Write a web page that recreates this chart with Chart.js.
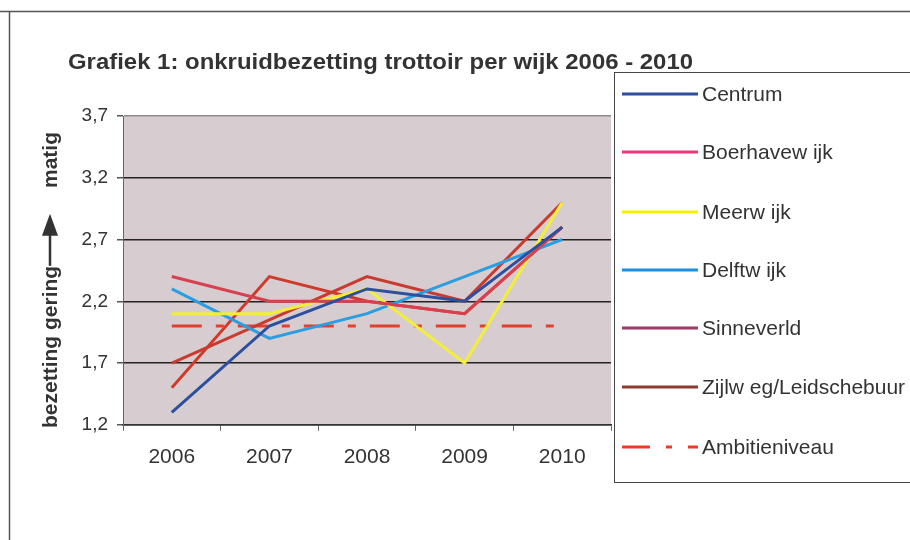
<!DOCTYPE html>
<html>
<head>
<meta charset="utf-8">
<script src="https://cdn.jsdelivr.net/npm/chart.js@4/dist/chart.umd.min.js"></script>
<style>
  body { margin: 0; background: #fff; }
  #myChart { display: block; }
</style>
</head>
<body>
<canvas id="myChart" width="910" height="540"></canvas>
<script>
// data van de grafiek
const jaren = ['2006', '2007', '2008', '2009', '2010'];
const wijken = ['Centrum', 'Boerhavewijk', 'Meerwijk', 'Delftwijk', 'Sinneverld', 'Zijlweg/Leidschebuurt', 'Ambitieniveau'];
const legendaTekst = ['Centrum', 'Boerhavew ijk', 'Meerw ijk', 'Delftw ijk', 'Sinneverld', 'Zijlw eg/Leidschebuur', 'Ambitieniveau'];

const centrum = [1.3, 2.0, 2.3, 2.2, 2.8];
const boerhavewijk = [2.4, 2.2, 2.2, 2.1, 2.8];
const meerwijk = [2.1, 2.1, 2.3, 1.7, 3.0];
const delftwijk = [2.3, 1.9, 2.1, 2.4, 2.7];
const sinneverld = [1.7, 2.05, 2.4, 2.2, 3.0];
const zijlweg = [1.5, 2.4, 2.2, 2.1, 2.8];
const ambitie = [2.0, 2.0, 2.0, 2.0, 2.0];

const yTicks = [1.2, 1.7, 2.2, 2.7, 3.2, 3.7];

// kleuren: lijn in de grafiek (scan) en in de legenda
const lijnKleur = ['#2c4f9e', '#d8404f', '#f2ee3a', '#2a9ee0', '#c93b2e', '#cf3a2a', '#e2402c'];
const legendaKleur = ['#2c4f9e', '#f0347a', '#f4f000', '#1a8fe6', '#9a3c66', '#8e3a2e', '#f03a28'];

const reeksen = [centrum, boerhavewijk, meerwijk, delftwijk, sinneverld, zijlweg, ambitie];

const datasets = reeksen.map((r, i) => ({
    label: wijken[i],
    data: r,
    borderColor: lijnKleur[i],
    backgroundColor: lijnKleur[i],
    borderWidth: 3,
    borderDash: i === 6 ? [30, 14, 8, 14] : [],
    pointRadius: 0,
    tension: 0,
    fill: false
}));

const tekstKleur = '#333';
const lettertype = '"Liberation Sans", Arial, sans-serif';

const extraTekening = {
    id: 'extraTekening',
    beforeDraw(chart) {
        const c = chart.ctx, a = chart.chartArea;
        c.save();
        c.fillStyle = '#d7cdd1';
        c.fillRect(a.left, a.top, a.right - a.left, a.bottom - a.top);
        c.restore();
    },
    afterDraw(chart) {
        const c = chart.ctx;
        c.save();
        // kader rond de figuur
        c.strokeStyle = '#555';
        c.lineWidth = 1.5;
        c.beginPath();
        c.moveTo(0, 11.5); c.lineTo(910, 11.5);
        c.moveTo(9.5, 11.5); c.lineTo(9.5, 540);
        c.stroke();

        // titel, uitgerekt tot de breedte van het origineel
        const titel = 'Grafiek 1: onkruidbezetting trottoir per wijk 2006 - 2010';
        c.fillStyle = tekstKleur;
        c.font = 'bold 22px ' + lettertype;
        c.textBaseline = 'alphabetic';
        c.textAlign = 'left';
        const w = c.measureText(titel).width;
        c.save();
        c.translate(68, 69);
        c.scale(625 / w, 1);
        c.fillText(titel, 0, 0);
        c.restore();

        // y-as titel met pijl
        c.save();
        c.translate(57, 428);
        c.rotate(-Math.PI / 2);
        c.font = 'bold 21px ' + lettertype;
        c.fillStyle = tekstKleur;
        c.textBaseline = 'alphabetic';
        c.fillText('bezetting gering', 0, 0);
        const b = c.measureText('bezetting gering').width;
        c.strokeStyle = tekstKleur;
        c.lineWidth = 2.5;
        c.beginPath();
        c.moveTo(b, -7); c.lineTo(b + 36, -7);
        c.stroke();
        c.beginPath();
        c.moveTo(b + 30, -15); c.lineTo(b + 52, -7); c.lineTo(b + 30, 1);
        c.closePath();
        c.fill();
        c.fillText('matig', 240, 0);
        c.restore();

        // legenda kader
        c.fillStyle = '#fff';
        c.fillRect(614, 72, 300, 410);
        c.strokeStyle = '#444';
        c.lineWidth = 1;
        c.strokeRect(614.5, 72.5, 300, 410);

        const ys = [94, 152, 212, 270, 328, 387, 447];
        c.font = '21px ' + lettertype;
        c.textBaseline = 'middle';
        legendaTekst.forEach((t, i) => {
            c.strokeStyle = legendaKleur[i];
            c.lineWidth = 3;
            c.setLineDash(i === 6 ? [28, 16, 6, 16] : []);
            c.beginPath();
            c.moveTo(622, ys[i]);
            c.lineTo(698, ys[i]);
            c.stroke();
            c.setLineDash([]);
            c.fillStyle = tekstKleur;
            c.fillText(t, 702, ys[i] + 1);
        });
        c.restore();
    }
};

var ctx = document.getElementById('myChart').getContext('2d');
var myChart = new Chart(ctx, {
    type: 'line',
    data: {
        labels: jaren,
        datasets: datasets
    },
    options: {
        responsive: false,
        animation: false,
        layout: {
            padding: { left: 34, right: 299, top: 116, bottom: 56 }
        },
        scales: {
            x: {
                offset: true,
                grid: {
                    offset: true,
                    drawOnChartArea: false,
                    color: '#666',
                    tickLength: 6
                },
                border: { color: '#333', width: 1.5 },
                ticks: {
                    color: tekstKleur,
                    font: { family: lettertype, size: 21 },
                    padding: 14
                }
            },
            y: {
                min: 1.2,
                max: 3.7,
                afterBuildTicks: (s) => { s.ticks = yTicks.map(v => ({ value: v })); },
                afterFit: (s) => { s.width = 89; },
                grid: {
                    color: (g) => g.index === 5 ? '#8a8a8a' : '#222',
                    lineWidth: 1.5,
                    tickLength: 6,
                    tickColor: '#555'
                },
                border: { color: '#666', width: 1 },
                ticks: {
                    color: tekstKleur,
                    font: { family: lettertype, size: 19 },
                    padding: 9,
                    callback: (v) => Number(v).toFixed(1).replace('.', ',')
                }
            }
        },
        plugins: {
            legend: { display: false },
            title: { display: false },
            tooltip: { enabled: false }
        }
    },
    plugins: [extraTekening]
});
</script>
</body>
</html>
